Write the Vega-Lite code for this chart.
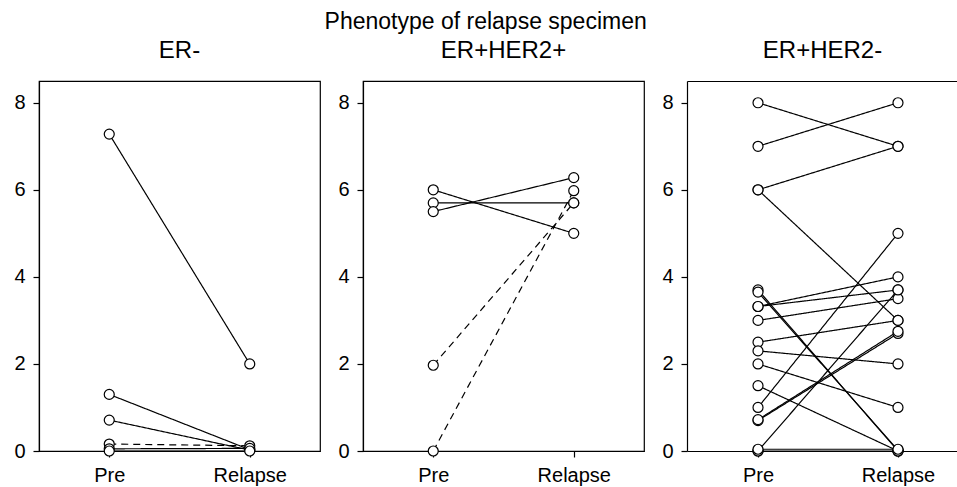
{
  "$schema": "https://vega.github.io/schema/vega-lite/v6.json",
  "padding": {"left": 13, "top": 11, "right": 0, "bottom": 0},
  "title": {"text": "Phenotype of relapse specimen", "fontSize": 23, "font": "Liberation Sans", "fontWeight": "normal", "anchor": "middle", "color": "black", "offset": 4},
  "data": {"values": [
    {"panel": "ER-", "id": "e1", "time": "Pre", "value": 7.28, "style": "solid"},
    {"panel": "ER-", "id": "e1", "time": "Relapse", "value": 2.0, "style": "solid"},
    {"panel": "ER-", "id": "e2", "time": "Pre", "value": 1.3, "style": "solid"},
    {"panel": "ER-", "id": "e2", "time": "Relapse", "value": 0.03, "style": "solid"},
    {"panel": "ER-", "id": "e3", "time": "Pre", "value": 0.71, "style": "solid"},
    {"panel": "ER-", "id": "e3", "time": "Relapse", "value": 0.02, "style": "solid"},
    {"panel": "ER-", "id": "e4", "time": "Pre", "value": 0.16, "style": "dashed"},
    {"panel": "ER-", "id": "e4", "time": "Relapse", "value": 0.12, "style": "dashed"},
    {"panel": "ER-", "id": "e5", "time": "Pre", "value": 0.05, "style": "solid"},
    {"panel": "ER-", "id": "e5", "time": "Relapse", "value": 0.06, "style": "solid"},
    {"panel": "ER-", "id": "e6", "time": "Pre", "value": 0.0, "style": "solid"},
    {"panel": "ER-", "id": "e6", "time": "Relapse", "value": 0.0, "style": "solid"},
    {"panel": "ER+HER2+", "id": "h1", "time": "Pre", "value": 6.0, "style": "solid"},
    {"panel": "ER+HER2+", "id": "h1", "time": "Relapse", "value": 5.0, "style": "solid"},
    {"panel": "ER+HER2+", "id": "h2", "time": "Pre", "value": 5.7, "style": "solid"},
    {"panel": "ER+HER2+", "id": "h2", "time": "Relapse", "value": 5.7, "style": "solid"},
    {"panel": "ER+HER2+", "id": "h3", "time": "Pre", "value": 5.5, "style": "solid"},
    {"panel": "ER+HER2+", "id": "h3", "time": "Relapse", "value": 6.28, "style": "solid"},
    {"panel": "ER+HER2+", "id": "h4", "time": "Pre", "value": 1.97, "style": "dashed"},
    {"panel": "ER+HER2+", "id": "h4", "time": "Relapse", "value": 5.7, "style": "dashed"},
    {"panel": "ER+HER2+", "id": "h5", "time": "Pre", "value": 0.0, "style": "dashed"},
    {"panel": "ER+HER2+", "id": "h5", "time": "Relapse", "value": 5.98, "style": "dashed"},
    {"panel": "ER+HER2-", "id": "n1", "time": "Pre", "value": 8.0, "style": "solid"},
    {"panel": "ER+HER2-", "id": "n1", "time": "Relapse", "value": 7.0, "style": "solid"},
    {"panel": "ER+HER2-", "id": "n2", "time": "Pre", "value": 7.0, "style": "solid"},
    {"panel": "ER+HER2-", "id": "n2", "time": "Relapse", "value": 8.0, "style": "solid"},
    {"panel": "ER+HER2-", "id": "n3", "time": "Pre", "value": 6.0, "style": "solid"},
    {"panel": "ER+HER2-", "id": "n3", "time": "Relapse", "value": 7.0, "style": "solid"},
    {"panel": "ER+HER2-", "id": "n4", "time": "Pre", "value": 6.0, "style": "solid"},
    {"panel": "ER+HER2-", "id": "n4", "time": "Relapse", "value": 3.0, "style": "solid"},
    {"panel": "ER+HER2-", "id": "n5", "time": "Pre", "value": 3.7, "style": "solid"},
    {"panel": "ER+HER2-", "id": "n5", "time": "Relapse", "value": 0.0, "style": "solid"},
    {"panel": "ER+HER2-", "id": "n6", "time": "Pre", "value": 3.65, "style": "solid"},
    {"panel": "ER+HER2-", "id": "n6", "time": "Relapse", "value": 0.02, "style": "solid"},
    {"panel": "ER+HER2-", "id": "n7", "time": "Pre", "value": 3.32, "style": "solid"},
    {"panel": "ER+HER2-", "id": "n7", "time": "Relapse", "value": 4.0, "style": "solid"},
    {"panel": "ER+HER2-", "id": "n8", "time": "Pre", "value": 3.32, "style": "solid"},
    {"panel": "ER+HER2-", "id": "n8", "time": "Relapse", "value": 3.7, "style": "solid"},
    {"panel": "ER+HER2-", "id": "n9", "time": "Pre", "value": 3.0, "style": "solid"},
    {"panel": "ER+HER2-", "id": "n9", "time": "Relapse", "value": 3.5, "style": "solid"},
    {"panel": "ER+HER2-", "id": "n10", "time": "Pre", "value": 2.5, "style": "solid"},
    {"panel": "ER+HER2-", "id": "n10", "time": "Relapse", "value": 3.0, "style": "solid"},
    {"panel": "ER+HER2-", "id": "n11", "time": "Pre", "value": 2.3, "style": "solid"},
    {"panel": "ER+HER2-", "id": "n11", "time": "Relapse", "value": 2.0, "style": "solid"},
    {"panel": "ER+HER2-", "id": "n12", "time": "Pre", "value": 2.0, "style": "solid"},
    {"panel": "ER+HER2-", "id": "n12", "time": "Relapse", "value": 1.0, "style": "solid"},
    {"panel": "ER+HER2-", "id": "n13", "time": "Pre", "value": 1.5, "style": "solid"},
    {"panel": "ER+HER2-", "id": "n13", "time": "Relapse", "value": 0.0, "style": "solid"},
    {"panel": "ER+HER2-", "id": "n14", "time": "Pre", "value": 1.0, "style": "solid"},
    {"panel": "ER+HER2-", "id": "n14", "time": "Relapse", "value": 5.0, "style": "solid"},
    {"panel": "ER+HER2-", "id": "n15", "time": "Pre", "value": 0.7, "style": "solid"},
    {"panel": "ER+HER2-", "id": "n15", "time": "Relapse", "value": 2.7, "style": "solid"},
    {"panel": "ER+HER2-", "id": "n16", "time": "Pre", "value": 0.72, "style": "solid"},
    {"panel": "ER+HER2-", "id": "n16", "time": "Relapse", "value": 2.75, "style": "solid"},
    {"panel": "ER+HER2-", "id": "n17", "time": "Pre", "value": 0.0, "style": "solid"},
    {"panel": "ER+HER2-", "id": "n17", "time": "Relapse", "value": 3.7, "style": "solid"},
    {"panel": "ER+HER2-", "id": "n18", "time": "Pre", "value": 0.0, "style": "solid"},
    {"panel": "ER+HER2-", "id": "n18", "time": "Relapse", "value": 0.0, "style": "solid"},
    {"panel": "ER+HER2-", "id": "n19", "time": "Pre", "value": 0.04, "style": "solid"},
    {"panel": "ER+HER2-", "id": "n19", "time": "Relapse", "value": 0.04, "style": "solid"}
  ]},
  "spacing": 43,
  "bounds": "flush",
  "hconcat": [
    {
      "title": "ER-",
      "width": 281,
      "height": 370,
      "transform": [{"filter": "datum.panel === 'ER-'"}],
      "layer": [
        {
          "mark": {"type": "line", "color": "black", "strokeWidth": 1.2, "clip": false},
          "encoding": {
            "x": {"field": "time", "type": "nominal", "sort": ["Pre", "Relapse"], "scale": {"type": "point", "padding": 0.5}, "title": null},
            "y": {"field": "value", "type": "quantitative", "scale": {"domain": [0, 8.5], "nice": false, "zero": false}, "title": null, "axis": {"values": [0, 2, 4, 6, 8]}},
            "detail": {"field": "id"},
            "strokeDash": {"field": "style", "type": "nominal", "scale": {"domain": ["solid", "dashed"], "range": [[1, 0], [7, 5]]}, "legend": null}
          }
        },
        {
          "mark": {"type": "point", "shape": "circle", "filled": true, "fill": "white", "stroke": "black", "strokeWidth": 1.2, "size": 100, "opacity": 1, "clip": false},
          "encoding": {
            "x": {"field": "time", "type": "nominal", "sort": ["Pre", "Relapse"], "scale": {"type": "point", "padding": 0.5}, "title": null},
            "y": {"field": "value", "type": "quantitative", "scale": {"domain": [0, 8.5], "nice": false, "zero": false}, "title": null, "axis": {"values": [0, 2, 4, 6, 8]}}
          }
        }
      ]
    },
    {
      "title": "ER+HER2+",
      "width": 281,
      "height": 370,
      "transform": [{"filter": "datum.panel === 'ER+HER2+'"}],
      "layer": [
        {
          "mark": {"type": "line", "color": "black", "strokeWidth": 1.2, "clip": false},
          "encoding": {
            "x": {"field": "time", "type": "nominal", "sort": ["Pre", "Relapse"], "scale": {"type": "point", "padding": 0.5}, "title": null},
            "y": {"field": "value", "type": "quantitative", "scale": {"domain": [0, 8.5], "nice": false, "zero": false}, "title": null, "axis": {"values": [0, 2, 4, 6, 8]}},
            "detail": {"field": "id"},
            "strokeDash": {"field": "style", "type": "nominal", "scale": {"domain": ["solid", "dashed"], "range": [[1, 0], [7, 5]]}, "legend": null}
          }
        },
        {
          "mark": {"type": "point", "shape": "circle", "filled": true, "fill": "white", "stroke": "black", "strokeWidth": 1.2, "size": 100, "opacity": 1, "clip": false},
          "encoding": {
            "x": {"field": "time", "type": "nominal", "sort": ["Pre", "Relapse"], "scale": {"type": "point", "padding": 0.5}, "title": null},
            "y": {"field": "value", "type": "quantitative", "scale": {"domain": [0, 8.5], "nice": false, "zero": false}, "title": null, "axis": {"values": [0, 2, 4, 6, 8]}}
          }
        }
      ]
    },
    {
      "title": "ER+HER2-",
      "width": 271,
      "height": 370,
      "view": {"stroke": null},
      "transform": [{"filter": "datum.panel === 'ER+HER2-'"}],
      "layer": [
        {
          "mark": {"type": "line", "color": "black", "strokeWidth": 1.2, "clip": false},
          "encoding": {
            "x": {"field": "time", "type": "nominal", "sort": ["Pre", "Relapse"], "scale": {"type": "point", "padding": 0.468, "align": 0.542}, "title": null, "axis": {"orient": "bottom"}},
            "y": {"field": "value", "type": "quantitative", "scale": {"domain": [0, 8.5], "nice": false, "zero": false}, "title": null, "axis": {"values": [0, 2, 4, 6, 8]}},
            "detail": {"field": "id"},
            "strokeDash": {"field": "style", "type": "nominal", "scale": {"domain": ["solid", "dashed"], "range": [[1, 0], [7, 5]]}, "legend": null}
          }
        },
        {
          "mark": {"type": "point", "shape": "circle", "filled": true, "fill": "white", "stroke": "black", "strokeWidth": 1.2, "size": 100, "opacity": 1, "clip": false},
          "encoding": {
            "x": {"field": "time", "type": "nominal", "sort": ["Pre", "Relapse"], "scale": {"type": "point", "padding": 0.468, "align": 0.542}, "title": null, "axis": {"orient": "top", "labels": false, "ticks": false, "domain": true}},
            "y": {"field": "value", "type": "quantitative", "scale": {"domain": [0, 8.5], "nice": false, "zero": false}, "title": null, "axis": {"values": [0, 2, 4, 6, 8]}}
          }
        }
      ],
      "resolve": {"axis": {"x": "independent"}}
    }
  ],
  "config": {
    "view": {"stroke": "black", "strokeWidth": 1.2},
    "title": {"font": "Liberation Sans", "fontSize": 24, "fontWeight": "normal", "color": "black", "offset": 18},
    "axis": {"grid": false, "labelFont": "Liberation Sans", "labelFontSize": 20, "labelColor": "black", "tickColor": "black", "domainColor": "black", "tickSize": 6, "tickWidth": 1.2, "domainWidth": 1.2, "labelPadding": 8, "labelAngle": 0}
  }
}
